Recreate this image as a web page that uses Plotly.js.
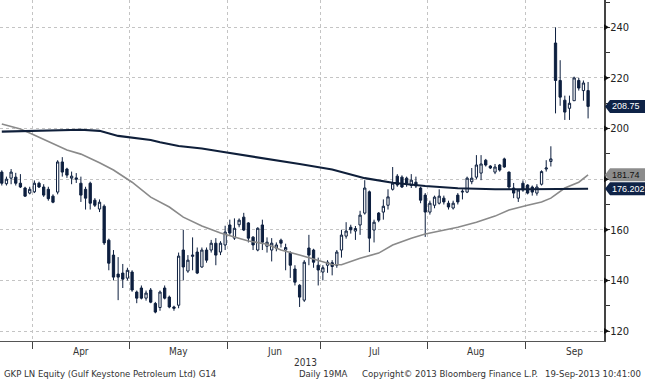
<!DOCTYPE html>
<html><head><meta charset="utf-8">
<script src="https://cdn.plot.ly/plotly-3.0.1.min.js"></script>
<style>html,body{margin:0;padding:0;background:#fff;} #chart{width:645px;height:380px;}</style>
</head><body><div id="chart"></div>
<script>
// ---- data ----
const monthNames = ['Mar','Apr','May','Jun','Jul','Aug','Sep'];
const monthDays  = [7,21,21,20,23,21,14];      // trading days shown per month
const monthLabelSpan = [7,21,21,20,23,21,21];  // full-month trading days (label centring)
const yearLabel = '2013';

const open  = [182.8,178.2,180.4,180.8,178.4,176.5,174.5,175,178.4,176.9,176,173.3,174.9,186.8,184,180.4,180.5,178.4,176,178.4,171.7,168.2,169.3,155.9,150,142.5,142.9,140.9,143.3,135.4,137,133,136.2,130.9,129.3,137,133.4,129.5,130.2,152,143.7,149.5,151.2,145.3,152,152,154.7,151.2,154,161.9,156.7,162,165,162.7,157.1,152,161.9,153.5,152,152.8,155.9,152,150.8,144.5,138.1,132.2,152.8,152,146,143.3,146,147,146,152,157.5,161,159.5,161.9,166.6,175,159.9,166.6,167,169.7,176,181.2,180.8,180.4,177.5,178.8,176.5,173.7,167,169.7,170.5,172.5,170.5,168.6,173.7,174.9,174.9,179,180.8,182.4,187.5,185.2,182.8,185.6,188,182.8,176.5,172.5,178.4,177.7,176.9,174.5,178,184,187,233.8,219,211.2,208,211,219,215,215];
const high  = [183.5,181,184,182.5,182,177,177,179.5,179,178,177,174,187.5,188.7,184.5,183,182.4,181,177,179,172.5,172,170,156.5,152,149.2,146.5,145,144,136,138,136,137,131.5,136,138,134,130,151,160,150,157,153,153,153,156,156.7,155.5,161.6,164,164.5,164.5,166.7,163,157.5,161,164,157,156.7,155,156.5,154.5,151.5,146,138.5,148,158,152.5,149,146,148,148,152,160,163,162,161.5,167.5,179.6,175.5,164,167,172,176,184.8,182,181.5,181,182,181,177,174.5,171.5,173.5,176,173.5,171.5,171.5,174.5,176,181,184.4,189.5,189.5,188,185.5,186,186,188.5,183,178.5,176,179.5,178,177.5,178,183.5,187.5,193,240,227,213,213,220.5,220,219,218.4];
const low   = [177.5,177.5,178,177.5,176.5,173,174,174.5,176.5,173,171.5,170.5,174,181,180.5,178,178.5,171,168,168,169,167,154,144,140,132.2,137,140,135.5,131,132.5,132,131,127,128,132.5,129,128,129,140,143,144,142.5,145,147,151,146,150,152,158,156,161,159.5,155,152,151.5,152,151,147.5,151.5,153,144,141,138,129.5,131.5,146,145,138,140,143,142,145,149,156.5,158.5,156,158,166,151.2,155,163,164,168,175.5,177,176.5,177,176.5,176.5,170.5,157.2,166,168.5,170,170,168,168,170,172,174.5,178,180,179.6,185,184,182,183,184.5,176,172.5,171,175,174,173.5,173.5,177.5,183,185,206,209,203.4,203.4,211,215,211,204];
const close = [178.4,180,182.8,178.4,176.9,173.3,176,178.4,176.9,173.7,172.3,170.9,186.8,182.8,181.6,181.2,180,173.7,172.5,170.5,169.7,170.9,154.8,146.8,141.3,141.3,140.5,144,136.2,133,133,135,131.4,127.5,135.4,133,129.5,129,149.6,145.3,148,150,142.9,152,148,154.7,150,154.7,159.1,158.7,160.6,163.8,159.9,156.7,154,160.6,155.1,155.1,154.7,154,154.7,153,146,139.3,133.4,147.2,150,147.2,144.1,145,147.2,145.5,151.2,157.9,159.5,160,160.5,165.8,176.5,156.7,163,163.8,169.3,173,178.4,177.7,176.9,178.4,179.6,177.3,171.7,167,170.5,172.9,173.3,171,169,170.5,171,175.2,180.4,180.4,185.6,186,185.6,184.4,184.8,183.6,184.8,176.9,174.5,175.7,175.7,174.5,174.9,176.9,183,184.4,188,219,212.4,206.5,210,220,216,218,208.75];

// long (dark) moving average, read at trading-day positions
const maLongIdx = [0,4,8,13,17,21,25,32,34,38,43,47,51,57,64,71,78,84,91,98,106,113,120,126];
const maLongVal = [198.8,199.0,199.1,199.3,199.5,199.1,197.1,195.5,194.6,193.1,192.1,190.9,189.8,188.2,186.0,183.8,180.4,178.6,177.3,176.4,176.0,176.0,176.0,176.202];
// short (grey) moving average
const maShortIdx = [0,4,6,10,14,17,21,24,28,32,36,39,43,47,50,53,57,60,64,68,71,73,77,81,84,88,91,98,102,106,109,113,116,118,121,124,126];
const maShortVal = [201.8,199.8,198.2,194.7,191.5,189.9,186.5,183.6,178.8,172.9,169,165,161.5,158.7,157.1,155.6,154.3,152,150,148,146.3,146.2,148.8,150.8,154,156.7,158.3,161,163,165.4,167.8,169.7,171,172.5,176.5,178.8,181.74];

const yTicks = [120,140,160,180,200,220,240];
const yTickText = ['120','140','160','','200','220','240'];  // 180 is hidden behind the value tags
const footerLeft = 'GKP LN Equity (Gulf Keystone Petroleum Ltd) G14';
const footerMid = 'Daily 19MA';
const footerCopy = 'Copyright\u00A9 2013 Bloomberg Finance L.P.';
const footerDate = '19-Sep-2013 10:41:00';

// ---- geometry helpers ----
const W = 645, H = 380, ML = 0, MR = 41, MT = 0, MB = 39;
const PW = W - ML - MR, PH = H - MT - MB;
const yRange = [116.06, 250.79];
const xRange = [-0.387, 129.42];
const pxY = PH / (yRange[1] - yRange[0]);
const paperX = px => (px - ML) / PW;
const paperY = py => (MT + PH - py) / PH;

const xIdx = open.map((_, i) => i);
const starts = []; let acc = 0; monthDays.forEach(d => { starts.push(acc); acc += d; });
const boundaries = starts.slice(1).map(v => v - 0.5);

const navy = '#0d1f3f';
const traces = [
  {type:'scatter', mode:'lines', x:maShortIdx, y:maShortVal, line:{color:'#8a8a8a', width:1.6}, hoverinfo:'skip'},
  {type:'scatter', mode:'lines', x:maLongIdx, y:maLongVal, line:{color:'#0f1f3a', width:2.1}, hoverinfo:'skip'},
  {type:'candlestick', x:xIdx, open:open, high:high, low:low, close:close,
   increasing:{line:{color:navy, width:1}, fillcolor:'#ffffff'},
   decreasing:{line:{color:navy, width:1}, fillcolor:navy},
   whiskerwidth:0, hoverinfo:'skip'}
];

const shapes = [];
const annotations = [];
// tick triangles on right axis
yTicks.forEach(v => {
  const h = 3 / pxY;
  shapes.push({type:'path', xref:'paper', yref:'y', layer:'above',
    path:`M ${paperX(604)} ${v-h} L ${paperX(609)} ${v} L ${paperX(604)} ${v+h} Z`,
    fillcolor:'#111', line:{width:0}});
});
// value tags
function tag(v, bg, fg, txt) {
  const h = 6.5 / pxY;
  shapes.push({type:'path', xref:'paper', yref:'y', layer:'above',
    path:`M ${paperX(605)} ${v} L ${paperX(610)} ${v+h} L ${paperX(645)} ${v+h} L ${paperX(645)} ${v-h} L ${paperX(610)} ${v-h} Z`,
    fillcolor:bg, line:{width:0}});
  annotations.push({xref:'paper', yref:'y', x:paperX(610), y:v, xanchor:'left', yanchor:'middle',
    text:txt, showarrow:false, font:{family:'Liberation Sans, Arial', size:9, color:fg}});
}
tag(close[close.length-1], '#0f2347', '#ffffff', String(close[close.length-1]));
tag(maShortVal[maShortVal.length-1], '#8c8c8c', '#111111', String(maShortVal[maShortVal.length-1]));
tag(maLongVal[maLongVal.length-1], '#0f2347', '#ffffff', String(maLongVal[maLongVal.length-1]));

// month labels
const lblFont = {family:'DejaVu Sans Condensed, DejaVu Sans', size:10, color:'#333'};
monthNames.forEach((m, k) => {
  if (k === 0) return;
  const c = starts[k] - 0.5 + monthLabelSpan[k] / 2;
  annotations.push({xref:'x', yref:'paper', x:c, y:paperY(351), text:m, showarrow:false,
    xanchor:'center', yanchor:'middle', font:lblFont});
});
annotations.push({xref:'paper', yref:'paper', x:paperX(305), y:paperY(362), text:yearLabel, showarrow:false,
  xanchor:'center', yanchor:'middle', font:lblFont});
const ftFont = {family:'DejaVu Sans Condensed, DejaVu Sans', size:9.5, color:'#333'};
annotations.push({xref:'paper', yref:'paper', x:paperX(2), y:paperY(373), text:footerLeft, showarrow:false, xanchor:'left', yanchor:'middle', font:ftFont});
annotations.push({xref:'paper', yref:'paper', x:paperX(297), y:paperY(373), text:footerMid, showarrow:false, xanchor:'left', yanchor:'middle', font:ftFont});
annotations.push({xref:'paper', yref:'paper', x:paperX(360), y:paperY(373), text:footerCopy, showarrow:false, xanchor:'left', yanchor:'middle', font:ftFont});
annotations.push({xref:'paper', yref:'paper', x:paperX(643), y:paperY(373), text:footerDate, showarrow:false, xanchor:'right', yanchor:'middle', font:ftFont});

const layout = {
  width:W, height:H, margin:{l:ML, r:MR, t:MT, b:MB, pad:0},
  paper_bgcolor:'#ffffff', plot_bgcolor:'#ffffff', showlegend:false,
  xaxis:{type:'linear', range:xRange, tickvals:boundaries, ticktext:boundaries.map(() => ''),
    ticks:'outside', ticklen:7, tickcolor:'#444', tickwidth:1,
    showgrid:true, gridcolor:'#c4c4c4', griddash:'dot', gridwidth:1,
    showline:true, linecolor:'#555', linewidth:1, zeroline:false,
    rangeslider:{visible:false}, fixedrange:true},
  yaxis:{side:'right', range:yRange, tickvals:yTicks, ticktext:yTickText, ticks:'outside', ticklen:2, tickcolor:'#222',
    showgrid:true, gridcolor:'#c4c4c4', griddash:'dot', gridwidth:1,
    showline:true, linecolor:'#444', linewidth:2, zeroline:false, fixedrange:true,
    tickfont:{family:'DejaVu Sans Condensed, DejaVu Sans', size:11, color:'#222'},
    minor:{dtick:10, ticks:'outside', ticklen:4, tickcolor:'#333', showgrid:false}},
  shapes:shapes, annotations:annotations
};
Plotly.newPlot('chart', traces, layout, {staticPlot:true, displayModeBar:false});
</script></body></html>
